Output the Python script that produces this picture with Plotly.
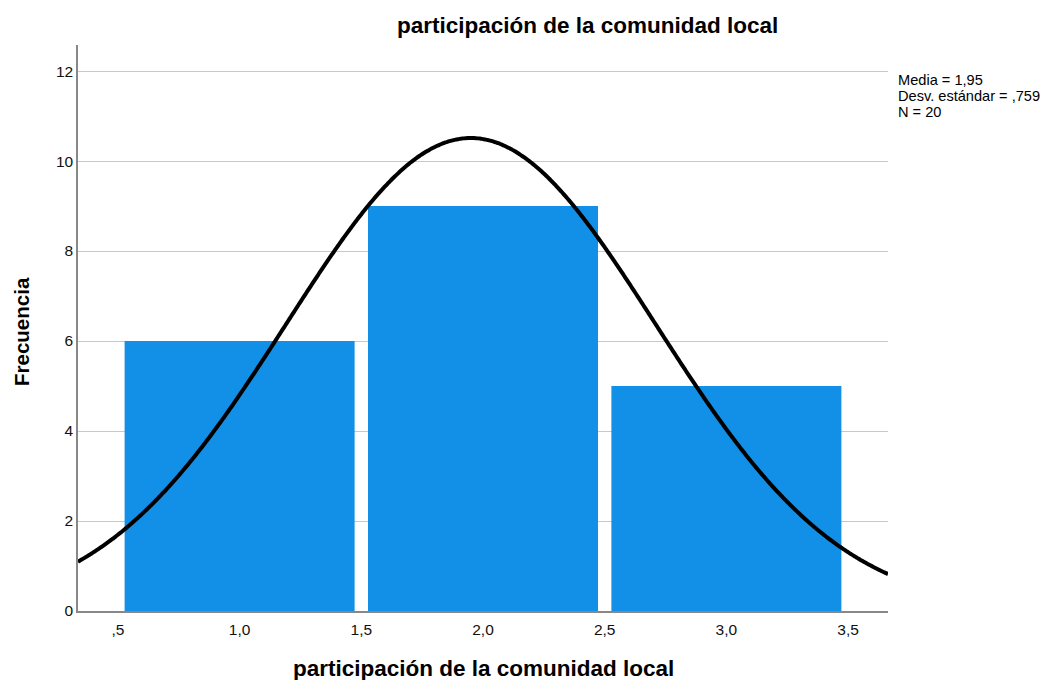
import numpy as np
import plotly.graph_objects as go

# Data
bin_centers = [1.0, 2.0, 3.0]
frequencies = [6, 9, 5]
mean_val = 1.95
std_val = 0.759
n_val = 20
bin_width = 1.0

x_tickvals = [0.5, 1.0, 1.5, 2.0, 2.5, 3.0, 3.5]
x_ticktext = [",5", "1,0", "1,5", "2,0", "2,5", "3,0", "3,5"]
y_tickvals = [0, 2, 4, 6, 8, 10, 12]
stats_lines = ["Media = 1,95", "Desv. estándar = ,759", "N = 20"]

x_min, x_max = 0.336, 3.664

# Normal curve fitted from the displayed statistics
xs = np.linspace(x_min, x_max, 400)
ys = n_val * bin_width / (std_val * np.sqrt(2 * np.pi)) * np.exp(-0.5 * ((xs - mean_val) / std_val) ** 2)

fig = go.Figure()
fig.add_trace(go.Bar(
    x=bin_centers, y=frequencies, width=0.945,
    marker=dict(color="#128fe6", line=dict(width=0)),
    hoverinfo="skip",
))
fig.add_trace(go.Scatter(
    x=xs, y=ys, mode="lines",
    line=dict(color="black", width=4, shape="spline"),
    hoverinfo="skip",
))

font_family = "Liberation Sans, Arial, sans-serif"

annotations = [
    dict(text="<b>participación de la comunidad local</b>", xref="paper", yref="paper",
         x=0.6296, y=1, yshift=20, xanchor="center", yanchor="middle",
         showarrow=False, font=dict(size=22.5, color="black")),
    dict(text="<b>participación de la comunidad local</b>", xref="paper", yref="paper",
         x=0.5, y=0, yshift=-57, xanchor="center", yanchor="middle",
         showarrow=False, font=dict(size=22.5, color="black")),
    dict(text="<b>Frecuencia</b>", xref="paper", yref="paper", textangle=-90,
         x=0, xshift=-56, y=0.493, xanchor="center", yanchor="middle",
         showarrow=False, font=dict(size=20.5, color="black")),
]
for i, line in enumerate(stats_lines):
    annotations.append(dict(
        text=line, xref="paper", yref="paper",
        x=1, xshift=8, y=1, yshift=-35 - 16 * i, xanchor="left", yanchor="middle",
        align="left", showarrow=False, font=dict(size=14.6, color="black")))

fig.update_layout(
    width=1044, height=672,
    margin=dict(l=70, r=164, t=37, b=69),
    paper_bgcolor="white", plot_bgcolor="white",
    showlegend=False,
    font=dict(family=font_family, color="black", size=15),
    xaxis=dict(
        range=[x_min, x_max],
        tickvals=x_tickvals, ticktext=x_ticktext,
        showgrid=False, zeroline=False,
        showline=True, linecolor="#888888", linewidth=1.5,
        ticks="", tickfont=dict(size=15.5, color="#111"),
        ticklabelstandoff=4,
    ),
    yaxis=dict(
        range=[0, 12.58],
        tickvals=y_tickvals,
        showgrid=True, gridcolor="#c8c8c8", gridwidth=1.2,
        zeroline=False,
        showline=True, linecolor="#888888", linewidth=1.5,
        ticks="", tickfont=dict(size=15.5, color="#111"),
    ),
    annotations=annotations,
)

fig.write_html("out.html")
